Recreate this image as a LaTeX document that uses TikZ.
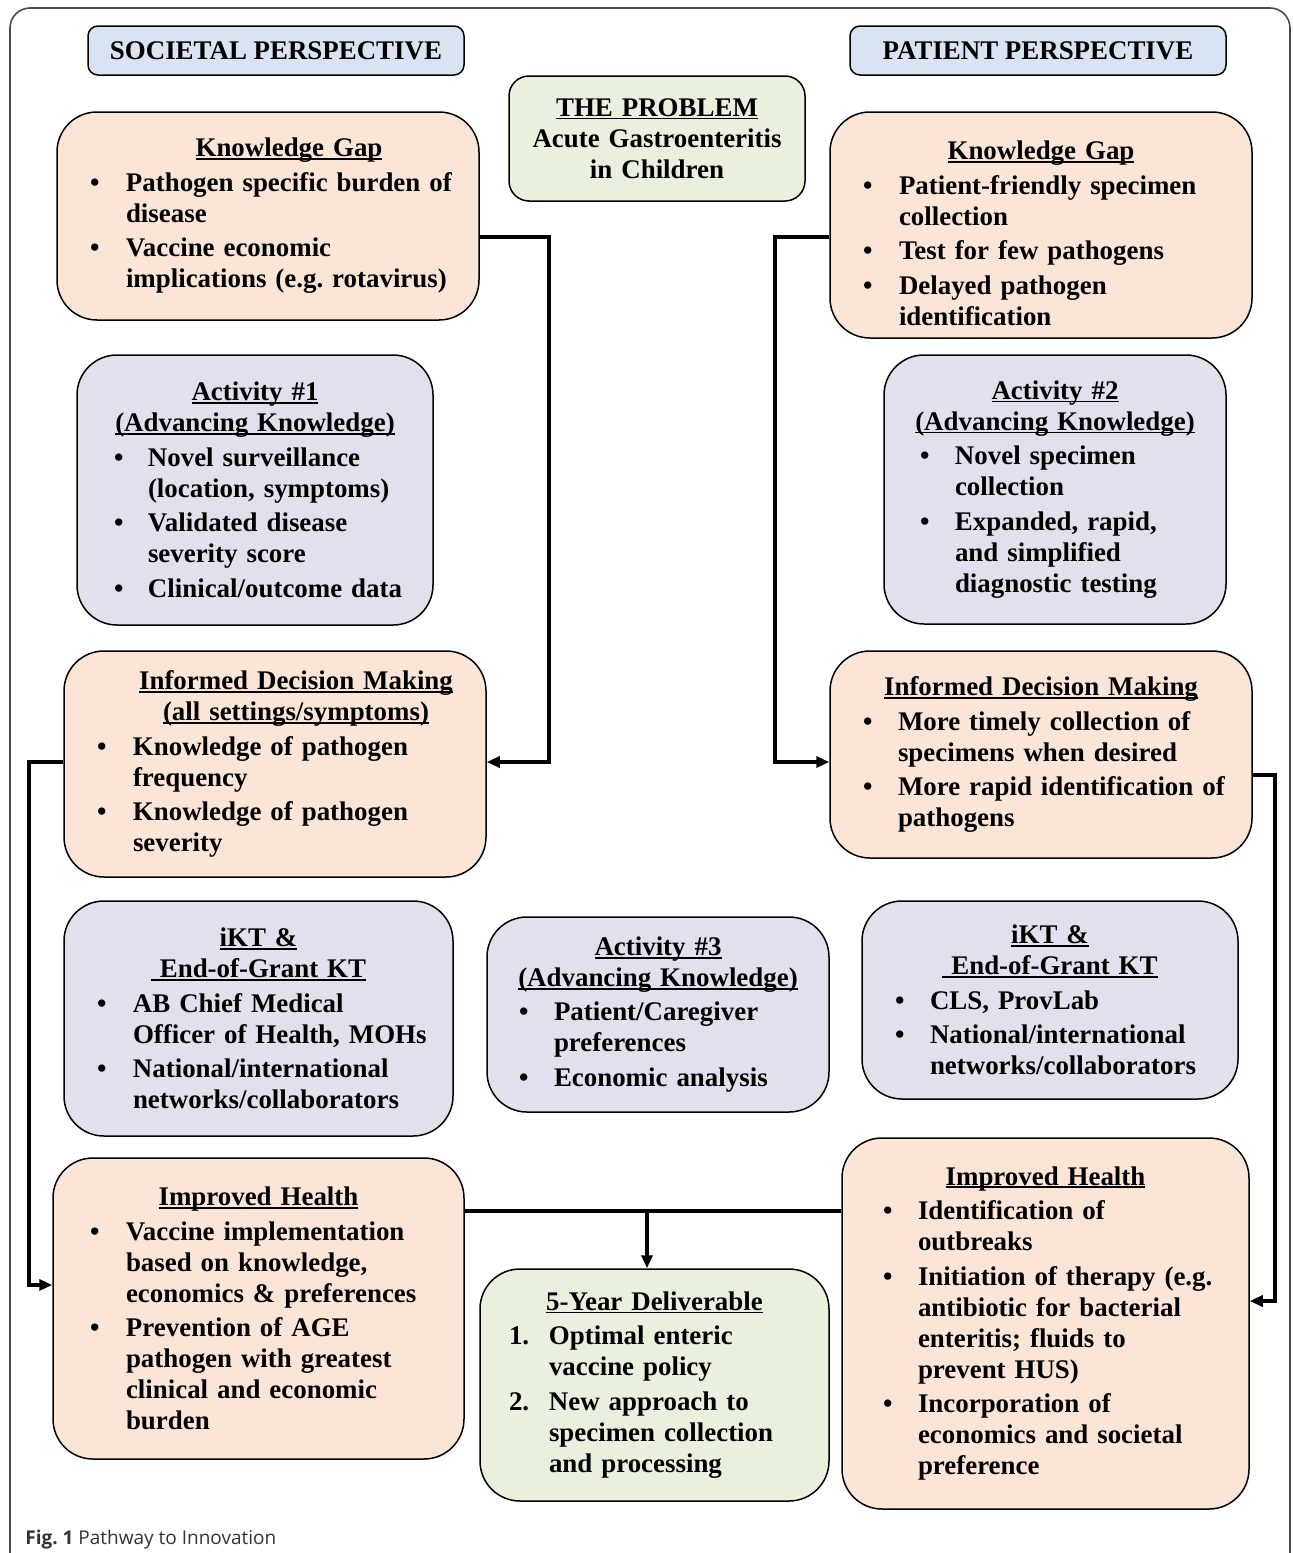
\documentclass[tikz,border=0pt]{standalone}
\usepackage{fontspec}
\setmainfont{Liberation Serif}
\newfontfamily\capfont{Open Sans}
\usetikzlibrary{arrows.meta}

\definecolor{peachc}{HTML}{FBE5D6}
\definecolor{lavc}{HTML}{E3DFEC}
\definecolor{greenc}{HTML}{E9F0DE}
\definecolor{bluec}{HTML}{DAE3F2}

\frenchspacing
\newcommand\txtfont{\bfseries\fontsize{13.45}{15.5}\selectfont}
\newsavebox\headbox
\newcommand\uhead[1]{\sbox\headbox{#1}\rlap{\rule[-1.6pt]{\wd\headbox}{0.9pt}}\usebox\headbox}
\newlength\bulx \setlength\bulx{16.5pt}
\newlength\txtx \setlength\txtx{34.5pt}
\newcommand\bul[2][\textbullet]{\par\vspace{1.8pt}\noindent\hangindent=\txtx\hangafter=1\makebox[\txtx][l]{\hspace{\bulx}#1}{\def\\{\hfil\break}#2}\par}

\begin{document}
\begin{tikzpicture}[
    x=0.5pt, y=-0.5pt,
    card/.style={draw, line width=0.75pt, rounded corners=20pt, inner xsep=0pt, inner ysep=0pt, font=\txtfont, execute at begin node={\raggedright}},
    peach/.style={card, fill=peachc},
    lav/.style={card, fill=lavc},
    green/.style={card, fill=greenc},
    persp/.style={draw, line width=0.75pt, fill=bluec, rounded corners=5pt, minimum width=188pt, minimum height=24.5pt, inner sep=0pt, font=\txtfont},
    ind/.style 2 args={execute at begin node={\setlength\bulx{#1}\setlength\txtx{#2}}},
    link/.style={line width=2pt, -{Triangle[length=6.5pt,width=5.5pt]}},
    plain/.style={line width=2pt}
    ]
  \useasboundingbox (0,0) rectangle (1292,1553);
  % outer frame
  \draw[black!70, line width=0.8pt, rounded corners=10pt] (10,1570) -- (10,8) -- (1290,8) -- (1290,1570);

  % headers
  \node[persp] (soc) at (276,50.5) {SOCIETAL PERSPECTIVE};
  \node[persp] (pat) at (1038,50.5) {PATIENT PERSPECTIVE};
  \node[draw, line width=0.75pt, fill=greenc, rounded corners=10pt, align=center, text width=148pt, minimum height=62.5pt, inner xsep=0pt, font=\txtfont] (prob) at (657,138.5)
    {\uhead{THE PROBLEM}\\Acute Gastroenteritis\\in Children};

  % societal column
  \node[peach, text width=211pt, minimum height=104pt] (kgl) at (268,216) {%
    \centerline{\hspace*{21pt}\uhead{Knowledge Gap}}
    \bul{Pathogen specific burden of\\disease}
    \bul{Vaccine economic\\implications (e.g. rotavirus)}};
  \node[lav, ind={18.5pt}{35.5pt}, text width=178pt, minimum height=135pt] (act1) at (255,490) {%
    \centerline{\uhead{Activity \#1}}
    \centerline{\uhead{(Advancing Knowledge)}}
    \bul{Novel surveillance\\(location, symptoms)}
    \bul{Validated disease\\severity score}
    \bul{Clinical/outcome data}};
  \node[peach, text width=211pt, minimum height=113pt] (idml) at (275,764) {%
    \centerline{\hspace*{21pt}\uhead{Informed Decision Making}}
    \centerline{\hspace*{21pt}\uhead{(all settings/symptoms)}}
    \bul{Knowledge of pathogen\\frequency}
    \bul{Knowledge of pathogen\\severity}};
  \node[lav, text width=194.5pt, minimum height=117.5pt] (iktl) at (258.5,1018.5) {%
    \centerline{\uhead{iKT \&}}
    \centerline{\uhead{\ End-of-Grant KT}}
    \bul{AB Chief Medical\\Officer of Health, MOHs}
    \bul{National/international\\networks/collaborators}};
  \node[peach, ind={18.5pt}{36.5pt}, text width=205.5pt, minimum height=150.5pt] (ihl) at (258.5,1308.5) {%
    \centerline{\uhead{Improved Health}}
    \bul{Vaccine implementation\\based on knowledge,\\economics \& preferences}
    \bul{Prevention of AGE\\pathogen with greatest\\clinical and economic\\burden}};

  % middle column
  \node[lav, ind={16pt}{33.5pt}, text width=171pt, minimum height=97.5pt] (act3) at (658,1014.5) {%
    \centerline{\uhead{Activity \#3}}
    \centerline{\uhead{(Advancing Knowledge)}}
    \bul{Patient/Caregiver\\preferences}
    \bul{Economic analysis}};
  \node[green, ind={14.5pt}{34.5pt}, text width=174.5pt, minimum height=116pt] (five) at (654.5,1385) {%
    \centerline{\uhead{5-Year Deliverable}}
    \bul[1.]{Optimal enteric\\vaccine policy}
    \bul[2.]{New approach to\\specimen collection\\and processing}};

  % patient column
  \node[peach, text width=211pt, minimum height=113pt] (kgr) at (1041,225) {%
    \vspace*{2pt}
    \centerline{\uhead{Knowledge Gap}}
    \bul{Patient-friendly specimen\\collection}
    \bul{Test for few pathogens}
    \bul{Delayed pathogen\\identification}};
  \node[lav, ind={18pt}{35.5pt}, text width=171pt, minimum height=134.5pt] (act2) at (1055,489.5) {%
    \centerline{\uhead{Activity \#2}}
    \centerline{\uhead{(Advancing Knowledge)}}
    \bul{Novel specimen\\collection}
    \bul{Expanded, rapid,\\and simplified\\diagnostic testing}};
  \node[peach, ind={16.5pt}{34pt}, text width=211pt, minimum height=103.5pt] (idmr) at (1041,754.5) {%
    \centerline{\uhead{Informed Decision Making}}
    \bul{More timely collection of\\specimens when desired}
    \bul{More rapid identification of\\pathogens}};
  \node[lav, ind={16.5pt}{34pt}, text width=188pt, minimum height=99pt] (iktr) at (1050,1000) {%
    \centerline{\uhead{iKT \&}}
    \centerline{\uhead{\ End-of-Grant KT}}
    \bul{CLS, ProvLab}
    \bul{National/international\\networks/collaborators}};
  \node[peach, ind={20.5pt}{38pt}, text width=203.5pt, minimum height=185.5pt] (ihr) at (1045.5,1323.5) {%
    \centerline{\uhead{Improved Health}}
    \bul{Identification of\\outbreaks}
    \bul{Initiation of therapy (e.g.\\antibiotic for bacterial\\enteritis; fluids to\\prevent HUS)}
    \bul{Incorporation of\\economics and societal\\preference}};

  % connectors
  \draw[link] ([yshift=-10.5pt]kgl.east) -- ++(69,0) |- ([yshift=1pt]idml.east);
  \draw[link] ([yshift=-6pt]kgr.west) -- ++(-54,0) |- ([yshift=-3.75pt]idmr.west);
  \draw[link] ([yshift=1pt]idml.west) -- ++(-34,0) |- ([yshift=11.75pt]ihl.west);
  \draw[link] ([yshift=-10.25pt]idmr.east) -- ++(22,0) |- ([yshift=11.25pt]ihr.east);
  \draw[plain] ([yshift=48.75pt]ihl.east) -- ([yshift=56.25pt]ihr.west);
  \coordinate (mid) at (647,1211);
  \draw[link] (mid) -- (mid |- five.north);

  % caption
  \node[anchor=base west, inner sep=0pt, font=\capfont\fontsize{9.5}{11}\selectfont, text=black!80] (cap) at (25,1544)
    {\textbf{Fig. 1} Pathway to Innovation};
\end{tikzpicture}
\end{document}
